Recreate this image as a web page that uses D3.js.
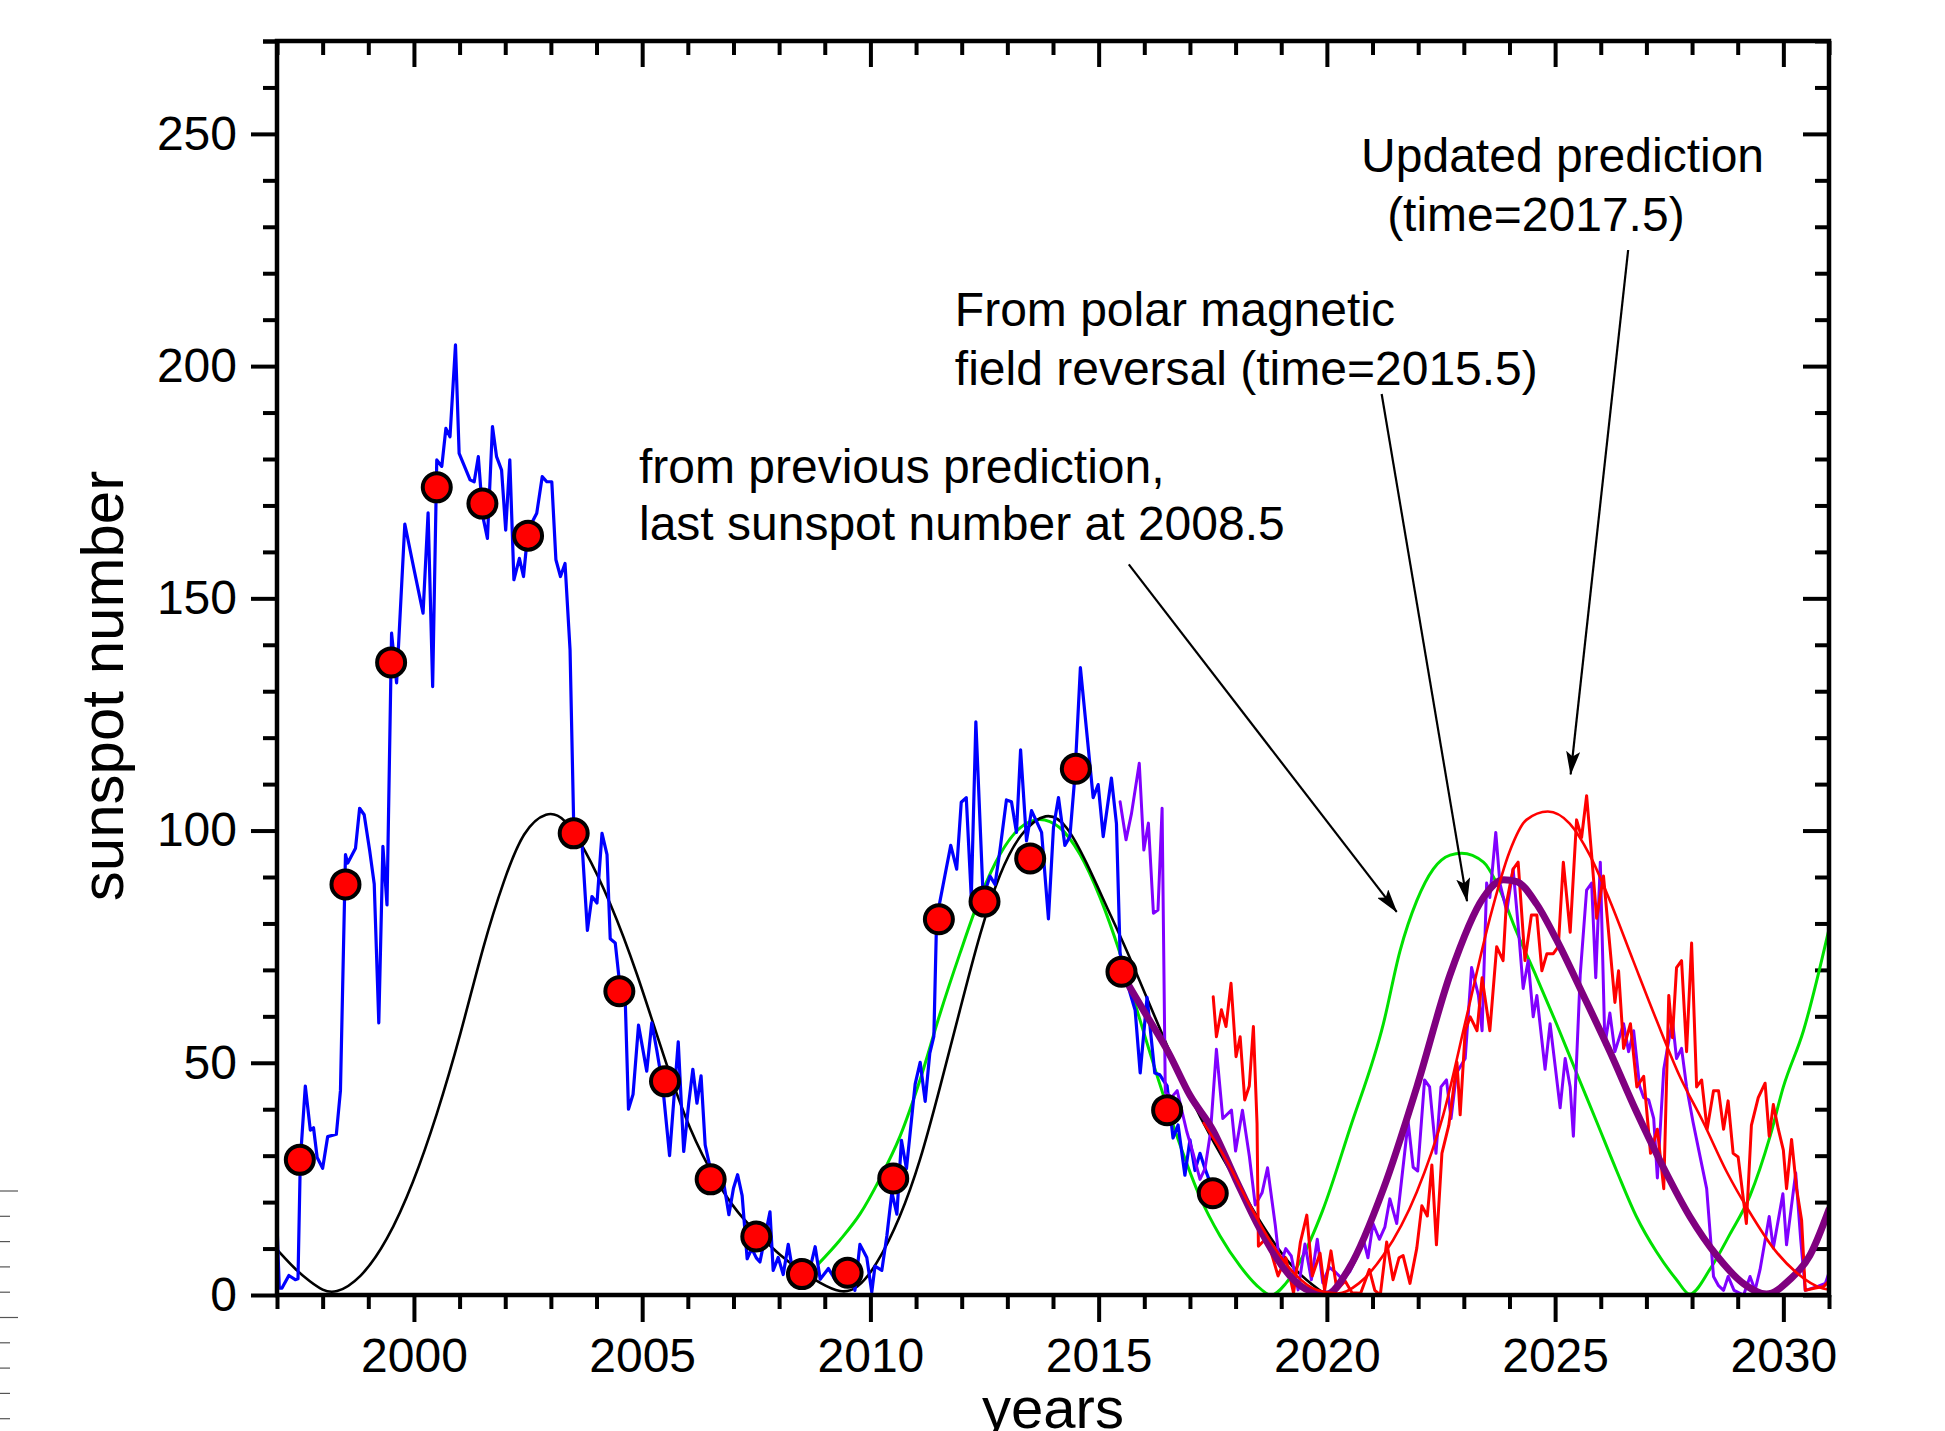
<!DOCTYPE html>
<html>
<head>
<meta charset="utf-8">
<title>Sunspot number and cycle predictions</title>
<script src="https://cdn.jsdelivr.net/npm/d3@7/dist/d3.min.js"></script>
<style>
	body { margin: 0; background: #fff; }
	svg { display: block; font-family: "Liberation Sans", Arial, sans-serif; }
</style>
</head>
<body>
<svg id="chart" width="1945" height="1431"></svg>
<script>
// ---- data ----
const xMajor = [2000, 2005, 2010, 2015, 2020, 2025, 2030];
const yMajor = [0, 50, 100, 150, 200, 250];

// yearly means, red dots
const annualYears = [1997.5, 1998.5, 1999.5, 2000.5, 2001.5, 2002.5, 2003.5, 2004.5, 2005.5, 2006.5, 2007.5,
	2008.5, 2009.5, 2010.5, 2011.5, 2012.5, 2013.5, 2014.5, 2015.5, 2016.5, 2017.5];
const annualSunspots = [29.1, 88.4, 136.2, 173.9, 170.4, 163.5, 99.4, 65.4, 46.0, 24.9, 12.6,
	4.5, 4.8, 25.1, 80.9, 84.7, 94.0, 113.3, 69.6, 39.8, 21.9];

// observed sunspot number (blue)
const observed = [
	[1997.00, 15.3], [1997.05, 1.5], [1997.11, 1.5], [1997.26, 4.2], [1997.40, 3.3], [1997.46, 3.5],
	[1997.51, 28.7], [1997.62, 45], [1997.73, 35.5], [1997.80, 36], [1997.88, 29.6], [1998.00, 27.3],
	[1998.11, 34.1], [1998.30, 34.6], [1998.39, 44], [1998.50, 94.8], [1998.55, 93], [1998.72, 96.2],
	[1998.81, 104.8], [1998.91, 103.4], [1999.03, 95.7], [1999.13, 88.5], [1999.23, 58.6], [1999.32, 96.6],
	[1999.41, 84], [1999.51, 142.5], [1999.62, 131.8], [1999.80, 166], [1999.99, 156.8], [2000.20, 146.8],
	[2000.31, 168.4], [2000.41, 131], [2000.50, 179.8], [2000.61, 178.4], [2000.70, 186.6], [2000.79, 184.8],
	[2000.91, 204.6], [2000.99, 181.2], [2001.23, 175.5], [2001.32, 175.1], [2001.41, 180.5], [2001.51, 167.6],
	[2001.61, 162.9], [2001.72, 187], [2001.81, 180.5], [2001.92, 177.6], [2002.01, 164.7], [2002.10, 179.8],
	[2002.19, 154], [2002.31, 158.6], [2002.40, 154.7], [2002.50, 164.7], [2002.69, 168.3], [2002.81, 176.2],
	[2002.91, 175.1], [2003.02, 175.1], [2003.11, 158.3], [2003.21, 154.7], [2003.31, 157.5], [2003.42, 138.9],
	[2003.50, 101.2], [2003.68, 97.5], [2003.80, 78.5], [2003.90, 85.8], [2004.01, 84.4], [2004.12, 99.4],
	[2004.23, 94.8], [2004.30, 76.7], [2004.41, 75.8], [2004.52, 65.8], [2004.63, 63.1], [2004.70, 40],
	[2004.80, 43.2], [2004.92, 58.1], [2005.10, 48.2], [2005.21, 58.6], [2005.32, 52.7], [2005.45, 45],
	[2005.60, 30], [2005.79, 54.5], [2005.91, 30.9], [2006.02, 41.3], [2006.11, 48.6], [2006.20, 41.3],
	[2006.29, 47.2], [2006.38, 32.3], [2006.48, 27.8], [2006.78, 24.5], [2006.90, 17.3], [2007.00, 23],
	[2007.09, 25.9], [2007.19, 21.4], [2007.30, 7.8], [2007.40, 10], [2007.50, 8], [2007.58, 7.1],
	[2007.80, 17.9], [2007.87, 5.3], [2007.98, 8.1], [2008.09, 4.4], [2008.20, 10.9], [2008.31, 4.4],
	[2008.46, 7.6], [2008.60, 2.5], [2008.79, 10.4], [2008.90, 3.4], [2009.08, 5.7], [2009.22, 3.4],
	[2009.40, 4], [2009.55, 6], [2009.66, 1], [2009.77, 10.9], [2009.92, 8.1], [2010.03, 0.6],
	[2010.10, 6.2], [2010.25, 5.3], [2010.36, 12.7], [2010.47, 22.1], [2010.58, 17.4], [2010.68, 33.3],
	[2010.79, 27.2], [2010.98, 45.4], [2011.09, 50.1], [2011.20, 41.7], [2011.30, 52], [2011.39, 55.7],
	[2011.45, 81], [2011.63, 90.2], [2011.76, 96.8], [2011.89, 91.7], [2011.99, 106.1], [2012.10, 107.1],
	[2012.21, 85.6], [2012.31, 123.4], [2012.47, 85.6], [2012.62, 90.2], [2012.73, 88.4], [2012.84, 95.9],
	[2012.98, 106.6], [2013.09, 106.2], [2013.20, 99.6], [2013.29, 117.4], [2013.42, 97.8], [2013.53, 104.3],
	[2013.75, 99.6], [2013.90, 81], [2014.01, 100.6], [2014.12, 107.1], [2014.26, 96.8], [2014.37, 98.7],
	[2014.48, 111.8], [2014.60, 135.1], [2014.74, 121.1], [2014.88, 107.1], [2014.99, 109.9], [2015.10, 98.7],
	[2015.28, 111.3], [2015.39, 101.5], [2015.47, 73.5], [2015.60, 68], [2015.80, 61.3], [2015.91, 47.8],
	[2016.06, 64.1], [2016.23, 47.8], [2016.34, 47.4], [2016.50, 45], [2016.63, 33.8], [2016.74, 36.6],
	[2016.89, 25.8], [2017.00, 33.4], [2017.11, 26.8], [2017.22, 30.5], [2017.33, 27.2], [2017.45, 24]
];

// previous prediction (black)
const previousFit = [
	[1997.0, 9.8], [1997.4, 5.5], [1997.73, 2.8], [1998.0, 1.0], [1998.27, 0.2], [1998.82, 3.3], [1999.41, 11.4],
	[1999.99, 24.1], [2000.5, 38.6], [2001.02, 55.9], [2001.53, 75.8], [2001.97, 89.4], [2002.4, 100.3],
	[2002.92, 104.3], [2003.28, 103], [2003.72, 96.6], [2004.3, 84.8], [2004.89, 69.4], [2005.47, 51.3],
	[2006.05, 35], [2006.64, 24.1], [2007.1, 17.5], [2007.58, 12.7], [2008.02, 8.5], [2008.46, 5.3],
	[2008.9, 2.5], [2009.35, 0.4], [2009.7, 1.1], [2010.13, 6.2], [2010.65, 16.5], [2011.09, 28.6],
	[2011.52, 44.5], [2011.96, 61.3], [2012.4, 78.1], [2012.84, 91.2], [2013.28, 99.6], [2013.86, 104.3],
	[2014.3, 101.5], [2014.74, 93.1], [2015.17, 83.7], [2015.61, 74.4], [2016.05, 64.1], [2016.49, 53.8],
	[2017.0, 42.6], [2017.44, 34.2], [2018.1, 23], [2018.7, 13], [2019.3, 5], [2019.9, 0.6]
];

// from the 2008.5 prediction (green)
const greenFit = [
	[2008.86, 6.7], [2009.33, 11.8], [2009.77, 17.4], [2010.2, 24.9], [2010.65, 34.2], [2011.09, 46.4],
	[2011.52, 60.4], [2011.96, 73.5], [2012.4, 85.6], [2012.84, 94.9], [2013.28, 100.6], [2013.71, 102.4],
	[2014.15, 100.6], [2014.59, 94.9], [2015.03, 85.6], [2015.47, 73.5], [2015.9, 59.4], [2016.34, 45.4],
	[2016.78, 32.4], [2017.22, 21.1], [2017.66, 12.7], [2018.1, 6.2], [2018.45, 2.2], [2018.78, 0],
	[2019.1, 2.5], [2019.4, 7], [2019.9, 18], [2020.5, 35.7], [2021.24, 58.5], [2021.6, 74],
	[2021.97, 84.9], [2022.33, 91.7], [2022.7, 94.7], [2022.95, 95.1], [2023.43, 93.2], [2023.72, 88.7],
	[2024.16, 78.1], [2024.6, 68.3], [2025.03, 58.4], [2025.47, 47.8], [2025.91, 37.3], [2026.35, 26.7],
	[2026.78, 16.9], [2027.22, 9.3], [2027.66, 3.3], [2027.95, 0.2], [2028.39, 5.5], [2028.83, 13.1],
	[2029.27, 21.4], [2029.71, 34.2], [2030.0, 44.8], [2030.44, 56.9], [2031.0, 78.8]
];

// from polar field reversal, time = 2015.5 (thick purple)
const polarFit = [
	[2015.47, 69.8], [2016.0, 61], [2016.53, 52.2], [2017.0, 43], [2017.51, 35.4], [2018.0, 25],
	[2018.49, 15], [2019.0, 6.5], [2019.27, 3.3], [2019.6, 1], [2020.0, 0.2], [2020.5, 6],
	[2021.24, 22.9], [2021.97, 44.8], [2022.7, 69], [2023.43, 85.6], [2023.87, 89.4], [2024.16, 89],
	[2024.6, 84.1], [2025.03, 76.5], [2025.62, 64.5], [2026.2, 52.4], [2026.78, 39.5], [2027.37, 27.5],
	[2027.95, 16.9], [2028.54, 8.5], [2029.12, 2.5], [2029.63, 0.2], [2030.14, 3.3], [2030.58, 8.5],
	[2031.0, 18.4]
];

// updated prediction, time = 2017.5 (thin red)
const updatedFit = [
	[2017.3, 37], [2017.8, 29], [2018.3, 19.5], [2018.8, 11], [2019.3, 4.5], [2019.8, 1], [2020.24, 0.3],
	[2020.7, 2.5], [2021.24, 8.6], [2021.97, 22.2], [2022.55, 38.8], [2023.06, 59.9], [2023.57, 81.1],
	[2024.0, 95.4], [2024.37, 102.3], [2024.84, 104.1], [2025.32, 101.5], [2025.76, 94.7], [2026.2, 84.9],
	[2026.71, 72], [2027.22, 59.2], [2027.73, 47.1], [2028.24, 37.3], [2028.75, 26.7], [2029.27, 17.7],
	[2029.78, 10.1], [2030.29, 4.8], [2030.87, 1.4], [2031.0, 1.2]
];

// simulated monthly series for the 2015.5 prediction (violet)
const polarMonthly = [
	[2015.47, 106.2], [2015.60, 98], [2015.72, 103.7], [2015.89, 114.5], [2015.99, 95.8], [2016.09, 101.6],
	[2016.20, 82.2], [2016.30, 82.9], [2016.39, 104.8], [2016.46, 43.6], [2016.60, 42.6], [2016.72, 44],
	[2016.93, 35.2], [2017.07, 30.5], [2017.22, 24.9], [2017.33, 27.2], [2017.45, 35], [2017.58, 52.9],
	[2017.72, 38], [2017.91, 39.8], [2018.00, 31], [2018.15, 39.8], [2018.30, 30], [2018.43, 19.4],
	[2018.58, 22], [2018.70, 27.4], [2018.87, 15], [2018.97, 6.2], [2019.10, 10], [2019.22, 8.4],
	[2019.37, 1.1], [2019.52, 11], [2019.66, 3.3], [2019.79, 12], [2019.91, 2.6], [2020.05, 6],
	[2020.20, 4.8], [2020.35, 3.3], [2020.50, 5], [2020.65, 8], [2020.79, 12.3], [2020.90, 8],
	[2021.01, 15.4], [2021.15, 12], [2021.27, 14.6], [2021.38, 20.7], [2021.53, 15.4], [2021.78, 37.3],
	[2021.89, 27.5], [2021.99, 26.7], [2022.14, 46.3], [2022.25, 44.8], [2022.39, 30.5], [2022.50, 44.8],
	[2022.62, 46.3], [2022.72, 38], [2022.84, 47.8], [2023.03, 50.9], [2023.17, 70.5], [2023.32, 64.5],
	[2023.40, 56.9], [2023.50, 88.7], [2023.57, 85.6], [2023.70, 99.6], [2023.79, 88.7], [2023.94, 82.6],
	[2024.08, 91.7], [2024.19, 79.6], [2024.30, 66], [2024.41, 72], [2024.52, 59.9], [2024.60, 64.5],
	[2024.78, 48.6], [2024.89, 58.4], [2025.00, 49.4], [2025.11, 40.3], [2025.22, 50.9], [2025.33, 44.8],
	[2025.40, 34.2], [2025.55, 69], [2025.69, 87.2], [2025.80, 88.7], [2025.89, 68.3], [2025.99, 93.2],
	[2026.09, 53.9], [2026.20, 60.7], [2026.31, 52.4], [2026.50, 58.4], [2026.61, 52.4], [2026.72, 56.9],
	[2026.85, 45], [2026.94, 42.5], [2027.05, 42], [2027.16, 38], [2027.24, 25.2], [2027.38, 48.6],
	[2027.57, 59.2], [2027.66, 50.9], [2027.77, 53.1], [2027.88, 44.8], [2028.02, 37.3], [2028.13, 32],
	[2028.32, 22.9], [2028.47, 4], [2028.58, 2], [2028.69, 1], [2028.79, 4], [2028.92, 1],
	[2029.13, 0], [2029.27, 4], [2029.38, 1], [2029.49, 5.5], [2029.69, 16.9], [2029.78, 10.1],
	[2029.99, 21.8], [2030.07, 10.8], [2030.27, 26.3], [2030.38, 12], [2030.48, 1], [2030.74, 1.8],
	[2030.92, 2.5], [2031.0, 4.8]
];

// simulated monthly series for the 2017.5 prediction (red)
const updatedMonthly = [
	[2017.51, 64.2], [2017.58, 55.6], [2017.69, 61.4], [2017.79, 57.8], [2017.90, 67.1], [2018.01, 51.3],
	[2018.10, 55.6], [2018.20, 42], [2018.30, 45], [2018.39, 57.8], [2018.47, 36.9], [2018.50, 10.5],
	[2018.65, 12], [2018.78, 9.2], [2018.93, 4.1], [2019.10, 8], [2019.27, 0.4], [2019.42, 11.4],
	[2019.56, 17.2], [2019.68, 4.1], [2019.85, 9], [2019.95, 1], [2020.09, 9.5], [2020.22, 1.1],
	[2020.40, 3], [2020.55, 0.5], [2020.74, 0.4], [2020.93, 5.5], [2021.05, 1], [2021.17, 0],
	[2021.31, 11.4], [2021.45, 3.3], [2021.58, 8], [2021.67, 8.5], [2021.82, 2.5], [2021.97, 10.1],
	[2022.08, 19.2], [2022.20, 17], [2022.30, 28], [2022.40, 10.8], [2022.52, 30.5], [2022.67, 36.5],
	[2022.85, 50.1], [2022.92, 38.8], [2023.03, 56.9], [2023.14, 59.9], [2023.29, 56.9], [2023.40, 68.3],
	[2023.57, 56.9], [2023.72, 75], [2023.86, 72], [2023.93, 84.1], [2024.08, 91.7], [2024.19, 93.2],
	[2024.34, 72], [2024.48, 81.8], [2024.60, 81.8], [2024.71, 69.8], [2024.82, 73.5], [2024.96, 73.5],
	[2025.07, 75], [2025.18, 93.2], [2025.33, 78.1], [2025.47, 102.3], [2025.58, 98.5], [2025.69, 107.5],
	[2025.80, 94.7], [2025.91, 81.1], [2026.06, 90.2], [2026.20, 75], [2026.31, 63], [2026.39, 69.8],
	[2026.50, 53.1], [2026.65, 58.4], [2026.79, 44.8], [2026.94, 47.1], [2027.09, 30.5], [2027.24, 35.7],
	[2027.38, 22.9], [2027.49, 64.5], [2027.57, 55.4], [2027.66, 70.5], [2027.77, 72], [2027.88, 52.4],
	[2027.99, 75.8], [2028.10, 44.8], [2028.21, 46.3], [2028.33, 35.7], [2028.47, 44], [2028.58, 44],
	[2028.69, 35.7], [2028.79, 41.8], [2028.90, 30.5], [2029.01, 29.7], [2029.19, 15.4], [2029.30, 36.5],
	[2029.45, 42.5], [2029.60, 45.6], [2029.69, 34.2], [2029.78, 41], [2029.89, 35.7], [2030.00, 31.2],
	[2030.07, 22.9], [2030.18, 33.5], [2030.29, 22.9], [2030.40, 16.1], [2030.48, 1], [2030.70, 1.5],
	[2030.88, 1.8], [2031.0, 3]
];

// annotations, placed in data units
const notes = [
	{ x: 2004.93, lines: [["from previous prediction,", 174.8], ["last sunspot number at 2008.5", 162.6]] },
	{ x: 2011.85, lines: [["From polar magnetic", 208.7], ["field reversal (time=2015.5)", 196.0]] },
	{ x: 2020.75, lines: [["Updated prediction", 241.8]] },
	{ x: 2021.32, lines: [["(time=2017.5)", 229.1]] },
];
const arrows = [
	{ from: [2015.66, 157.3], to: [2021.53, 82.5] },
	{ from: [2021.2, 194], to: [2023.07, 84.8] },
	{ from: [2026.6, 225], to: [2025.34, 112.1] },
];

// ---- chart ----
const
	plotLeft = 277,
	plotRight = 1829,
	plotTop = 41,
	plotBottom = 1295;

const svg = d3.select("#chart");

const x = d3.scaleLinear().domain([1997, 2031]).range([plotLeft, plotRight]);
const y = d3.scaleLinear().domain([0, 270]).range([plotBottom, plotTop]);

const xMinor = d3.range(1997, 2032).filter(v => !xMajor.includes(v));
const yMinor = d3.range(0, 271, 10).filter(v => !yMajor.includes(v));

svg.append("rect")
	.attr("width", 1945)
	.attr("height", 1431)
	.attr("fill", "white");

const defs = svg.append("defs");

// little ruler marks at the left edge of the original image
for (let i = 0; i < 10; i++) {
	svg.append("line")
		.attr("x1", 0)
		.attr("x2", i % 5 === 0 ? 18 : 10)
		.attr("y1", 1191 + i * 25.3)
		.attr("y2", 1191 + i * 25.3)
		.attr("stroke", "#555")
		.attr("stroke-width", 1.2);
}

function addAxis(axis, transform, withLabels) {
	const g = svg.append("g")
		.attr("transform", transform)
		.call(axis);
	g.select(".domain").remove();
	g.selectAll(".tick line")
		.attr("stroke", "black")
		.attr("stroke-width", 4);
	g.attr("font-family", null).attr("font-size", 48);
	if (withLabels) {
		g.selectAll(".tick text").attr("fill", "black");
	}
	return g;
}

// bottom (outward) and top (inward)
addAxis(d3.axisBottom(x).tickValues(xMinor).tickSize(14).tickSizeOuter(0).tickFormat(""), `translate(0,${plotBottom})`);
addAxis(d3.axisBottom(x).tickValues(xMajor).tickSize(27).tickSizeOuter(0).tickPadding(16).tickFormat(d3.format("d")), `translate(0,${plotBottom})`, true);
addAxis(d3.axisBottom(x).tickValues(xMinor).tickSize(14).tickSizeOuter(0).tickFormat(""), `translate(0,${plotTop})`);
addAxis(d3.axisBottom(x).tickValues(xMajor).tickSize(26).tickSizeOuter(0).tickFormat(""), `translate(0,${plotTop})`);

// left (outward) and right (inward)
addAxis(d3.axisLeft(y).tickValues(yMinor.concat([270])).tickSize(14).tickSizeOuter(0).tickFormat(""), `translate(${plotLeft},0)`);
addAxis(d3.axisLeft(y).tickValues(yMajor).tickSize(26).tickSizeOuter(0).tickPadding(14).tickFormat(d3.format("d")), `translate(${plotLeft},0)`, true);
addAxis(d3.axisLeft(y).tickValues(yMinor).tickSize(14).tickSizeOuter(0).tickFormat(""), `translate(${plotRight},0)`);
addAxis(d3.axisLeft(y).tickValues(yMajor).tickSize(26).tickSizeOuter(0).tickFormat(""), `translate(${plotRight},0)`);

defs.append("clipPath")
	.attr("id", "plot-clip")
	.append("rect")
	.attr("x", plotLeft)
	.attr("y", plotTop)
	.attr("width", plotRight - plotLeft)
	.attr("height", plotBottom - plotTop);

const plot = svg.append("g").attr("clip-path", "url(#plot-clip)");

const rough = d3.line()
	.x(d => x(d[0]))
	.y(d => y(d[1]));

// monotone keeps the minima on zero; basis irons out the hand-read wobble of the black curve
const smooth = d3.line()
	.x(d => x(d[0]))
	.y(d => y(d[1]))
	.curve(d3.curveMonotoneX);

const softer = d3.line()
	.x(d => x(d[0]))
	.y(d => y(d[1]))
	.curve(d3.curveBasis);

function addPath(data, gen, color, width) {
	plot.append("path")
		.datum(data)
		.attr("d", gen)
		.attr("fill", "none")
		.attr("stroke", color)
		.attr("stroke-width", width)
		.attr("stroke-linejoin", "round")
		.attr("stroke-linecap", "round");
}

addPath(greenFit, smooth, "#00e000", 3);
addPath(previousFit, softer, "black", 2.6);
addPath(observed, rough, "#0000ff", 3.2);
addPath(polarMonthly, rough, "#8000ff", 3);
addPath(updatedMonthly, rough, "#ff0000", 3);
addPath(polarFit, smooth, "#800080", 7);
addPath(updatedFit, smooth, "#ff0000", 2.6);

plot.selectAll("circle.annual")
	.data(annualYears.map((yr, i) => [yr, annualSunspots[i]]))
	.enter()
	.append("circle")
	.attr("class", "annual")
	.attr("cx", d => x(d[0]))
	.attr("cy", d => y(d[1]))
	.attr("r", 14)
	.attr("fill", "#ff0000")
	.attr("stroke", "black")
	.attr("stroke-width", 4);

// frame
svg.append("rect")
	.attr("x", plotLeft)
	.attr("y", plotTop)
	.attr("width", plotRight - plotLeft)
	.attr("height", plotBottom - plotTop)
	.attr("fill", "none")
	.attr("stroke", "black")
	.attr("stroke-width", 4.5);

// arrows
defs.append("marker")
	.attr("id", "head")
	.attr("markerUnits", "userSpaceOnUse")
	.attr("viewBox", "0 0 24 14")
	.attr("markerWidth", 24)
	.attr("markerHeight", 14)
	.attr("refX", 23)
	.attr("refY", 7)
	.attr("orient", "auto")
	.append("path")
	.attr("d", "M0,0 L24,7 L0,14 L5,7 Z")
	.attr("fill", "black");

svg.selectAll("line.arrow")
	.data(arrows)
	.enter()
	.append("line")
	.attr("class", "arrow")
	.attr("x1", d => x(d.from[0]))
	.attr("y1", d => y(d.from[1]))
	.attr("x2", d => x(d.to[0]))
	.attr("y2", d => y(d.to[1]))
	.attr("stroke", "black")
	.attr("stroke-width", 2.2)
	.attr("marker-end", "url(#head)");

// annotation text
notes.forEach(note => {
	note.lines.forEach(([txt, v]) => {
		svg.append("text")
			.attr("x", x(note.x))
			.attr("y", y(v))
			.attr("font-size", 48)
			.attr("fill", "black")
			.text(txt);
	});
});

// axis titles (the x title sits at the very bottom edge, as in the original)
svg.append("text")
	.attr("x", (plotLeft + plotRight) / 2)
	.attr("y", 1428)
	.attr("text-anchor", "middle")
	.attr("font-size", 58)
	.text("years");

svg.append("text")
	.attr("transform", "translate(123,686) rotate(-90)")
	.attr("text-anchor", "middle")
	.attr("font-size", 60)
	.text("sunspot number");
</script>
</body>
</html>
